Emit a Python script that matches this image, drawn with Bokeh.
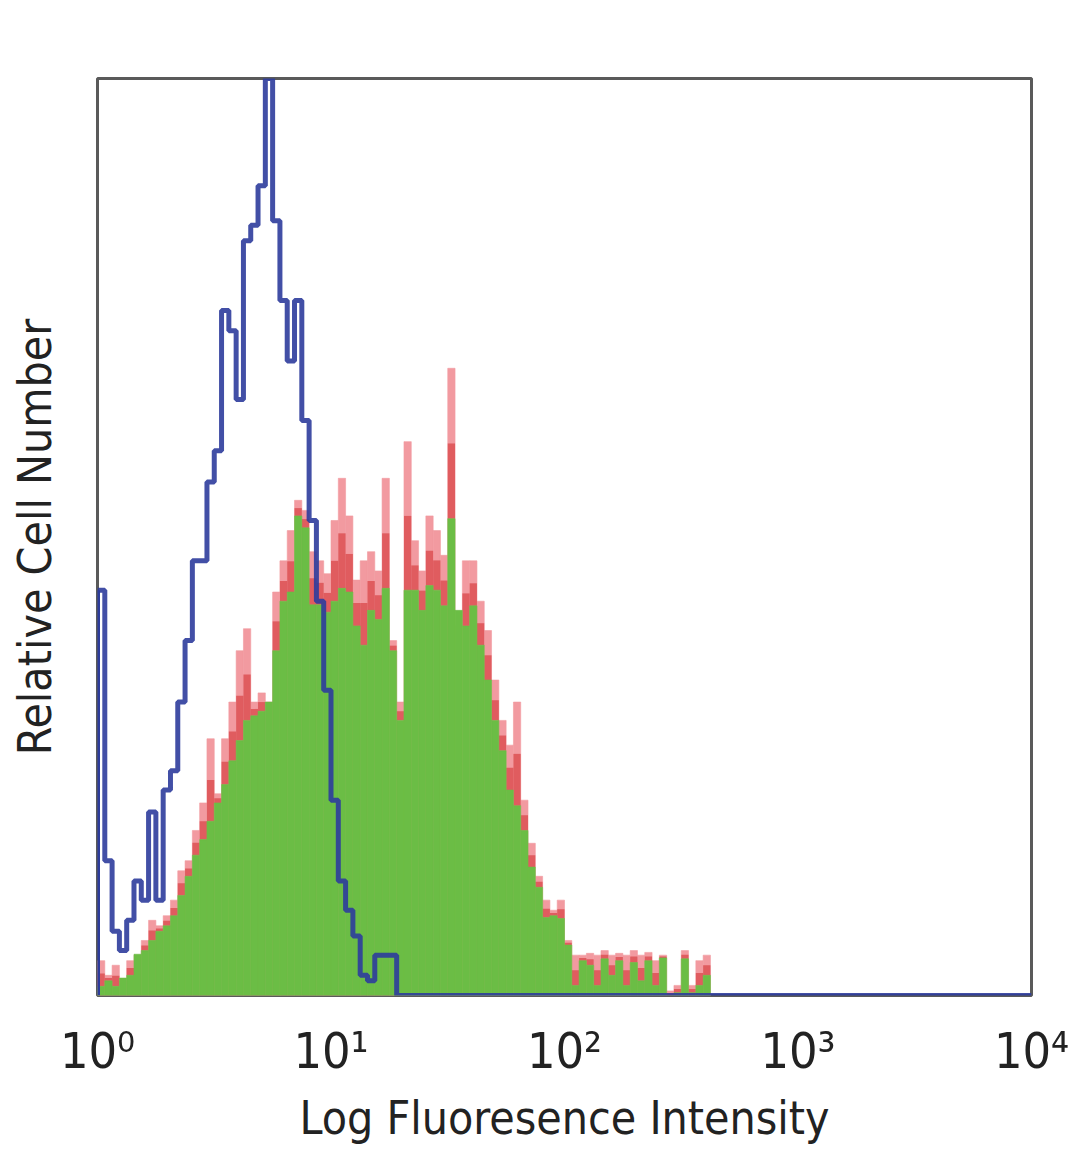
import numpy as np
from bokeh.plotting import figure
from bokeh.models import FixedTicker, Range1d
from bokeh.embed import file_html
from bokeh.resources import INLINE

# ---- data: histogram counts per log bin (32 bins per decade, starting at 10^0) ----
bins_per_decade = 32
x_ticks = [1, 10, 100, 1000, 10000]
x_tick_labels = ["10\u2070", "10\u00b9", "10\u00b2", "10\u00b3", "10\u2074"]

blue_counts = [44.2, 14.7, 7.0, 4.9, 8.2, 12.5, 10.4, 20.0, 10.4, 22.4,
               24.5, 32.0, 38.7, 47.4, 47.4, 56.0, 59.4, 74.7, 72.5, 65.0,
               82.3, 84.0, 88.3, 100.0, 84.5, 75.8, 69.2, 75.8, 62.7, 51.8,
               43.0, 33.3, 21.3, 12.5, 9.3, 6.5, 2.2, 1.6, 4.4, 4.4,
               4.4]

green_counts = [1.0, 1.6, 1.0, 1.9, 2.2, 4.5, 4.9, 6.0, 7.0, 7.6,
                8.7, 10.9, 13.0, 15.3, 17.0, 19.0, 21.0, 23.0, 25.6, 27.8,
                30.0, 30.5, 31.0, 32.0, 37.6, 43.0, 44.0, 52.3, 51.0, 42.6,
                42.6, 41.8, 43.0, 44.4, 44.0, 40.3, 38.2, 42.0, 41.0, 44.4,
                37.6, 30.0, 44.2, 44.2, 42.0, 44.7, 44.2, 42.5, 52.0, 42.0,
                40.3, 42.5, 38.2, 34.4, 30.0, 26.7, 22.4, 20.7, 18.0, 14.0,
                11.8, 8.5, 8.7, 8.4, 5.5, 1.1, 3.8, 3.3, 1.1, 4.0,
                2.2, 3.8, 1.1, 3.6, 1.6, 3.8, 1.1, 4.1, 0.0, 0.3,
                4.0, 0.3, 1.1, 2.2]

red_counts = [3.8, 2.2, 3.3, 1.6, 3.8, 4.4, 6.0, 8.2, 7.6, 8.7,
              10.4, 13.6, 14.7, 18.0, 21.0, 28.0, 22.0, 28.0, 32.0, 37.6,
              40.0, 32.0, 33.0, 32.0, 44.0, 47.4, 50.7, 54.0, 52.9, 48.4,
              47.4, 46.0, 51.8, 56.4, 52.3, 45.3, 47.4, 48.4, 46.3, 56.4,
              38.7, 32.0, 60.4, 49.6, 46.3, 52.3, 50.7, 48.0, 68.4, 40.3,
              47.4, 47.4, 43.0, 39.8, 34.4, 30.0, 27.3, 32.0, 21.3, 16.6,
              13.0, 10.4, 9.3, 10.4, 6.0, 4.4, 4.4, 4.6, 4.4, 4.9,
              4.4, 4.6, 4.4, 4.9, 4.4, 4.7, 3.8, 4.4, 0.5, 1.1,
              4.9, 1.1, 3.8, 4.4]

FONT = "DejaVu Sans Condensed, DejaVu Sans, sans-serif"


def edges(n):
    return 10.0 ** (np.arange(n + 1) / bins_per_decade)


p = figure(width=1072, height=1160, x_axis_type="log",
           x_range=Range1d(1, 10000), y_range=Range1d(0, 100),
           output_backend="svg", toolbar_location=None,
           min_border_left=97, min_border_right=41,
           min_border_top=78, min_border_bottom=165)

p.grid.visible = False
p.background_fill_color = "white"
p.outline_line_color = "#5a5a5a"
p.outline_line_width = 3

# red (behind)
e = edges(len(red_counts))
p.quad(left=e[:-1], right=e[1:], bottom=0, top=red_counts,
       fill_color="#f29aa0", line_color="#f29aa0", line_width=0.6)
# darker red rim just above green
rim = [max(g, (g + r) / 2) for g, r in zip(green_counts, red_counts)]
p.quad(left=e[:-1], right=e[1:], bottom=green_counts, top=rim,
       fill_color="#d9474a", line_color=None, fill_alpha=0.75)

# green (front)
e = edges(len(green_counts))
p.quad(left=e[:-1], right=e[1:], bottom=0, top=green_counts,
       fill_color="#6bbd45", line_color="#6bbd45", line_width=0.6)

# blue outline histogram
e = edges(len(blue_counts))
bx = list(e) + [10000]
by = list(blue_counts) + [0, 0]
p.step(x=bx, y=by, mode="after", line_color="#2d3c9c", line_width=5, line_alpha=0.9)
p.line(x=[1, 1], y=[0, blue_counts[0]], line_color="#2d3c9c", line_width=5)

# axes
xa = p.xaxis[0]
xa.ticker = FixedTicker(ticks=x_ticks)
xa.major_label_overrides = {t: l for t, l in zip(x_ticks, x_tick_labels)}
xa.major_tick_line_color = None
xa.minor_tick_line_color = None
xa.axis_line_color = None
xa.major_label_text_font = FONT
xa.major_label_text_font_size = "50px"
xa.major_label_text_color = "#222222"
xa.major_label_standoff = 20
xa.axis_label = "Log Fluoresence Intensity"
xa.axis_label_text_font = FONT
xa.axis_label_text_font_size = "46px"
xa.axis_label_text_font_style = "normal"
xa.axis_label_text_color = "#222222"
xa.axis_label_standoff = 8

ya = p.yaxis[0]
ya.major_tick_line_color = None
ya.minor_tick_line_color = None
ya.major_label_text_font_size = "0px"
ya.major_label_text_color = None
ya.axis_line_color = None
ya.axis_label = "Relative Cell Number"
ya.axis_label_text_font = FONT
ya.axis_label_text_font_size = "46px"
ya.axis_label_text_font_style = "normal"
ya.axis_label_text_color = "#222222"
ya.axis_label_standoff = 30

open("out.html", "w").write(file_html(p, INLINE))
